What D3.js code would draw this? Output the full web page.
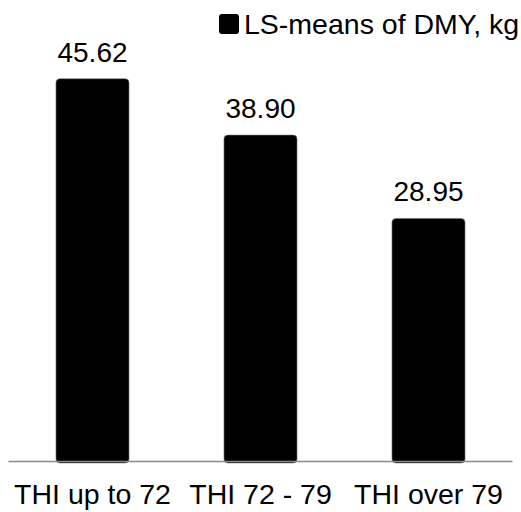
<!DOCTYPE html>
<html>
<head>
<meta charset="utf-8">
<script src="https://cdn.jsdelivr.net/npm/d3@7/dist/d3.min.js"></script>
<style>
  html, body { margin: 0; padding: 0; background: #fff; }
  svg { display: block; }
  text { font-family: "Liberation Sans", Arial, sans-serif; fill: #000; }
</style>
</head>
<body>
<svg id="chart" width="521" height="512"></svg>
<script>
// THI classes and LS-means of daily milk yield
const categories = ["THI up to 72", "THI 72 - 79", "THI over 79"];
const lsMeans = [45.62, 38.90, 28.95];
const seriesName = "LS-means of DMY, kg";

const svg = d3.select("#chart");
const baseY = 461;
const valueFont = 28;
const catFont = 28.5;
const legendFont = 28.5;

const x = d3.scaleBand()
  .domain(categories)
  .range([8.5, 512.5])
  .paddingInner(0.565)
  .paddingOuter(0.2825);

const y = d3.scaleLinear()
  .domain([0, 50])
  .range([baseY, baseY - 419]);

const data = categories.map((c, i) => ({ cat: c, value: lsMeans[i] }));

// bars with rounded corners
svg.append("g").selectAll("rect")
  .data(data)
  .join("rect")
  .attr("x", d => x(d.cat))
  .attr("y", d => y(d.value))
  .attr("width", x.bandwidth())
  .attr("height", d => y(0) - y(d.value) + 2)
  .attr("rx", 4)
  .attr("fill", "#000")
  .attr("stroke", "#7f7f7f")
  .attr("stroke-width", 0.6);

// value labels
svg.append("g").selectAll("text")
  .data(data)
  .join("text")
  .attr("x", d => x(d.cat) + x.bandwidth() / 2)
  .attr("y", d => y(d.value) - 17)
  .attr("text-anchor", "middle")
  .attr("font-size", valueFont)
  .text(d => d.value.toFixed(2));

// category axis
const xAxis = d3.axisBottom(x).tickSize(0).tickPadding(0);
const gx = svg.append("g")
  .attr("transform", `translate(0,${baseY})`)
  .call(xAxis);
gx.select(".domain")
  .attr("d", `M${x.range()[0]},0.5H${x.range()[1]}`)
  .attr("stroke", "#898989")
  .attr("stroke-width", 1.5);
gx.selectAll(".tick text")
  .attr("y", 43)
  .attr("dy", null)
  .attr("font-size", catFont)
  .attr("font-family", "Liberation Sans, Arial, sans-serif")
  .attr("fill", "#000");

// legend
const legend = svg.append("g").attr("transform", "translate(219,14)");
legend.append("rect")
  .attr("width", 20).attr("height", 20)
  .attr("rx", 3)
  .attr("fill", "#000");
legend.append("text")
  .attr("x", 25)
  .attr("y", 19.5)
  .attr("font-size", legendFont)
  .text(seriesName);
</script>
</body>
</html>
